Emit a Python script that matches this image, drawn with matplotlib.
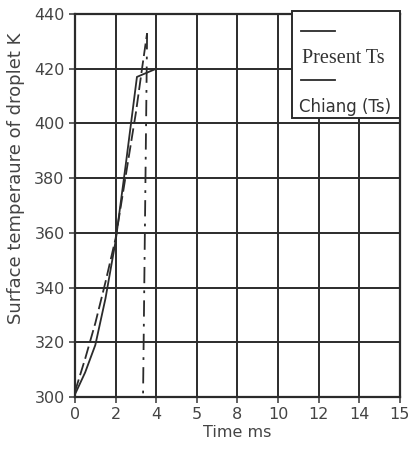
import numpy as np
import matplotlib.pyplot as plt
from matplotlib.patches import Rectangle

# Data
present_t = [0, 0.5, 1.0, 1.5, 2.0, 2.5, 3.0, 3.3, 3.55]
present_ts = [302, 314, 327, 342, 358, 381, 404, 420, 433]
drop_t = [3.55, 3.35]
drop_ts = [433, 300]

chiang_t = [0, 0.5, 1.0, 1.5, 2.0, 2.5, 3.05, 4.0]
chiang_ts = [301, 309, 319, 336, 357, 385, 417, 420]

xticks = [0, 2, 4, 6, 8, 10, 12, 14, 16]
xtick_labels = ['0', '2', '4', '5', '8', '10', '12', '14', '15']
yticks = [300, 320, 340, 360, 380, 400, 420, 440]

ink = '#2b2b2b'

fig = plt.figure(figsize=(4.11, 4.53), dpi=100)
ax = fig.add_axes([0.1825, 0.1236, 0.7905, 0.8455])

ax.set_xlim(0, 16)
ax.set_ylim(300, 440)
ax.set_xticks(xticks)
ax.set_xticklabels(xtick_labels)
ax.set_yticks(yticks)
ax.tick_params(axis='both', labelsize=11.5, colors='#444444', length=4, width=1.2,
               direction='out')
ax.grid(True, color=ink, linewidth=1.4, zorder=1)
for spine in ax.spines.values():
    spine.set_color(ink)
    spine.set_linewidth(1.6)

# curves
ax.plot(present_t, present_ts, color=ink, linewidth=1.3, dashes=(7, 2.5), zorder=3)
ax.plot(drop_t, drop_ts, color=ink, linewidth=1.3, linestyle='-.', dashes=(9, 4, 1.5, 4), zorder=3)
ax.plot(chiang_t, chiang_ts, color=ink, linewidth=1.3, zorder=3)

# hand-drawn style legend box
ax.add_patch(Rectangle((0.668, 0.728), 0.332, 0.28, transform=ax.transAxes,
                       facecolor='white', edgecolor=ink, linewidth=1.4,
                       zorder=4, clip_on=False))
ax.plot([0.695, 0.80], [0.955, 0.955], transform=ax.transAxes, color=ink,
        linewidth=1.3, zorder=5, clip_on=False)
ax.text(0.70, 0.885, 'Present Ts', transform=ax.transAxes, fontsize=14.5,
        family='Liberation Serif', color='#333333', va='center', zorder=5)
ax.plot([0.695, 0.80], [0.828, 0.828], transform=ax.transAxes, color=ink,
        linewidth=1.3, zorder=5, clip_on=False)
ax.text(0.688, 0.757, 'Chiang (Ts)', transform=ax.transAxes, fontsize=12,
        color='#333333', va='center', zorder=5)

ax.set_xlabel('Time ms', fontsize=11.5, color='#444444', labelpad=2)
ax.set_ylabel('Surface temperaure of droplet K', fontsize=13, color='#444444')
ax.yaxis.set_label_coords(-0.155, 0.57)

plt.savefig('out.png', dpi=100)
